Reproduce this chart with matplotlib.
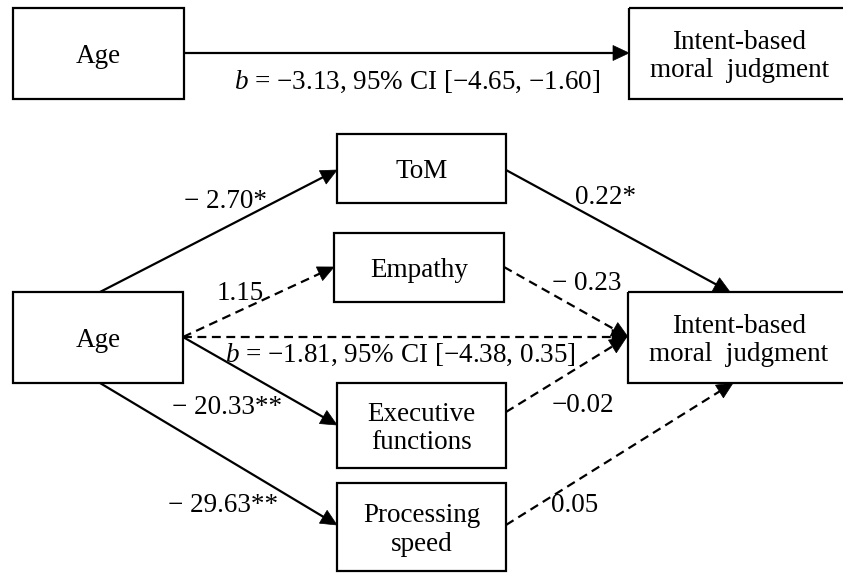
import numpy as np
import matplotlib.pyplot as plt
from matplotlib.patches import Rectangle, Polygon

plt.rcParams["font.family"] = ["Liberation Serif", "DejaVu Serif"]
plt.rcParams["mathtext.fontset"] = "custom"
plt.rcParams["mathtext.rm"] = "Liberation Serif"
plt.rcParams["mathtext.it"] = "Liberation Serif:italic"

# ---- data: node labels and path coefficients ----
node_names = ["Age", "Intent-based\nmoral  judgment", "ToM", "Empathy",
              "Executive\nfunctions", "Processing\nspeed"]
total_effect = r"$b$ = −3.13, 95% CI [−4.65, −1.60]"
direct_effect = r"$b$ = −1.81, 95% CI [−4.38, 0.35]"
mediators = ["ToM", "Empathy", "Executive\nfunctions", "Processing\nspeed"]
a_paths = ["− 2.70*", "1.15", "− 20.33**", "− 29.63**"]
b_paths = ["0.22*", "− 0.23", "−0.02", "0.05"]
a_signif = [True, False, True, True]
b_signif = [True, False, False, False]

# ---- layout (pixel space, y down) ----
W, H = 843, 575
boxes = {
    "age_top": (13, 8, 184, 99),
    "out_top": (629, 8, 850, 99),
    "age": (13, 292, 183, 383),
    "out": (628, 292, 850, 383),
    "ToM": (337, 134, 506, 203),
    "Empathy": (334, 233, 504, 302),
    "Executive\nfunctions": (337, 383, 506, 468),
    "Processing\nspeed": (337, 483, 506, 571),
}
a_start = [(100, 292), (183, 337), (183, 337), (100, 383)]
a_end = [(337, 170), (334, 267), (337, 425), (337, 525)]
b_start = [(506, 170), (504, 267), (506, 412), (506, 525)]
b_end = [(730, 292), (628, 337), (626, 338), (733, 383)]
a_lab = [(226, 198), (240, 291), (227, 404), (223, 503)]
b_lab = [(606, 195), (587, 280), (583, 402), (575, 503)]

FS = 19.5
LW = 1.6
DY = 3  # small downward nudge so text sits like the reference


def put(x, y, s):
    ax.text(x, y + DY, s, ha="center", va="center", fontsize=FS,
            linespacing=1.2)


fig = plt.figure(figsize=(W / 100, H / 100), dpi=100)
ax = fig.add_axes([0, 0, 1, 1])
ax.set_xlim(0, W)
ax.set_ylim(H, 0)
ax.axis("off")


def box(key, text):
    x0, y0, x1, y1 = boxes[key]
    ax.add_patch(Rectangle((x0, y0), x1 - x0, y1 - y0, fill=False,
                           lw=LW, ec="black"))
    put((x0 + x1) / 2, (y0 + y1) / 2, text)


def arrow(p0, p1, solid=True, hl=16, hw=7.5):
    p0, p1 = np.array(p0, float), np.array(p1, float)
    d = (p1 - p0) / np.hypot(*(p1 - p0))
    n = np.array([-d[1], d[0]])
    base = p1 - d * hl
    ax.plot([p0[0], base[0] + d[0] * 2], [p0[1], base[1] + d[1] * 2],
            color="black", lw=LW, ls="-" if solid else (0, (4, 2.5)),
            solid_capstyle="butt")
    ax.add_patch(Polygon([p1, base + n * hw, base - n * hw], closed=True,
                         fc="black", ec="black", lw=0.5))


# top panel: total effect
box("age_top", node_names[0])
box("out_top", node_names[1])
arrow((184, 53), (629, 53))
put(417, 79, total_effect)

# bottom panel: mediation model
box("age", node_names[0])
box("out", node_names[1])
for m in mediators:
    box(m, m)

for i in range(len(mediators)):
    arrow(a_start[i], a_end[i], a_signif[i])
    arrow(b_start[i], b_end[i], b_signif[i])
    put(*a_lab[i], a_paths[i])
    put(*b_lab[i], b_paths[i])

arrow((183, 337), (628, 337), solid=False)
put(400, 352, direct_effect)

fig.savefig("out.png", dpi=100)
